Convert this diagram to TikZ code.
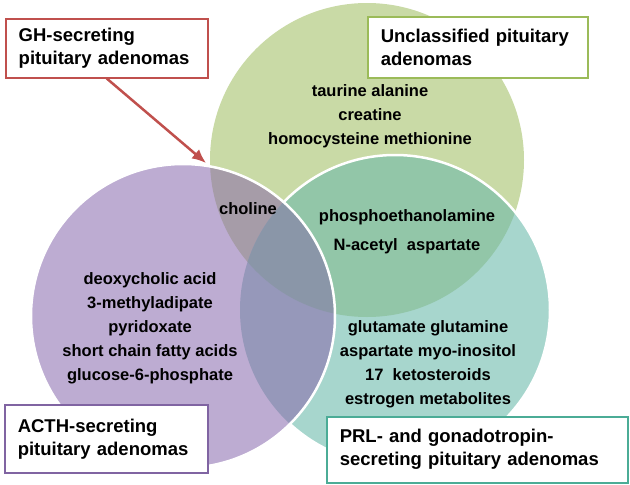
\documentclass[tikz,border=0pt]{standalone}
\usepackage{fontspec}
\setmainfont{Liberation Sans}
\usetikzlibrary{arrows.meta,positioning}
\definecolor{uncfill}{RGB}{201,218,166}
\definecolor{prlfill}{RGB}{167,214,205}
\definecolor{acthfill}{RGB}{189,172,210}
\definecolor{uncprl}{RGB}{146,198,168}
\definecolor{uncacth}{RGB}{166,156,168}
\definecolor{prlacth}{RGB}{150,152,186}
\definecolor{allthree}{RGB}{138,150,168}
\definecolor{ghred}{RGB}{192,80,77}
\definecolor{uncline}{RGB}{155,187,89}
\definecolor{acthline}{RGB}{128,100,162}
\definecolor{prlline}{RGB}{75,172,150}
\tikzset{
    raw group box/.style={rectangle, draw, line width=1.5pt, fill=white, anchor=north west, align=left, inner xsep=13pt, inner ysep=3pt, font=\bfseries\fontsize{18.5}{23}\selectfont},
    gh box/.style={raw group box, draw=ghred},
    uncl box/.style={raw group box, draw=uncline},
    acth box/.style={raw group box, draw=acthline},
    prl box/.style={raw group box, draw=prlline},
    metab/.style={align=center, text=black, font=\bfseries\fontsize{16.5}{24}\selectfont},
    rim/.style={draw=white, line width=2.5pt}
}
\begin{document}
\begin{tikzpicture}[x=1pt, y=-1pt, >={Latex[length=14pt,width=12pt]}]
	\useasboundingbox (0,0) rectangle (630,485);
	\coordinate (uncc) at (367,160);
	\coordinate (prlc) at (395,310);
	\coordinate (acthc) at (183,316);
	% circles
	\fill[uncfill] (uncc) circle (157pt);
	\fill[prlfill] (prlc) circle (155pt);
	\begin{scope}
		\clip (prlc) circle (155pt);
		\fill[uncprl] (uncc) circle (157pt);
	\end{scope}
	\draw[rim] (prlc) circle (155pt);
	\fill[acthfill] (acthc) circle (152pt);
	\begin{scope}
		\clip (acthc) circle (152pt);
		\fill[uncacth] (uncc) circle (157pt);
		\fill[prlacth] (prlc) circle (155pt);
		\clip (prlc) circle (155pt);
		\fill[allthree] (uncc) circle (157pt);
	\end{scope}
	\draw[rim] (acthc) circle (152pt);
	% metabolites
	\node[metab] (uncmet) at (370,116) {taurine alanine\\creatine\\homocysteine methionine};
	\node[metab] (choline) at (248,209) {choline};
	\node[metab, font=\bfseries\fontsize{16.5}{29}\selectfont] (uncprlmet) at (407,232) {phosphoethanolamine\\N-acetyl\ \ aspartate};
	\node[metab] (acthmet) at (150,328) {deoxycholic acid\\3-methyladipate\\pyridoxate\\short chain fatty acids\\glucose-6-phosphate};
	\node[metab] (prlmet) at (428,364) {glutamate glutamine\\aspartate myo-inositol\\17\ \ ketosteroids\\estrogen metabolites};
	% group boxes
	\node[gh box, minimum width=202pt, minimum height=59pt, text width=176pt] (gh) at (5,18) {GH-secreting\\pituitary adenomas};
	\node[uncl box, minimum width=220pt, minimum height=61pt, text width=194pt] (uncl) at (367,16) {Unclassified pituitary\\adenomas};
	\node[acth box, minimum width=203pt, minimum height=68pt, text width=177pt] (acth) at (4,404) {ACTH-secreting\\pituitary adenomas};
	\node[prl box, minimum width=301pt, minimum height=66pt, text width=275pt] (prl) at (326,416) {PRL- and gonadotropin-\\secreting pituitary adenomas};
	\coordinate (ghtip) at (206,163);
	\draw[->, ghred, line width=2.5pt] (gh.south) -- (ghtip);
\end{tikzpicture}
\end{document}
